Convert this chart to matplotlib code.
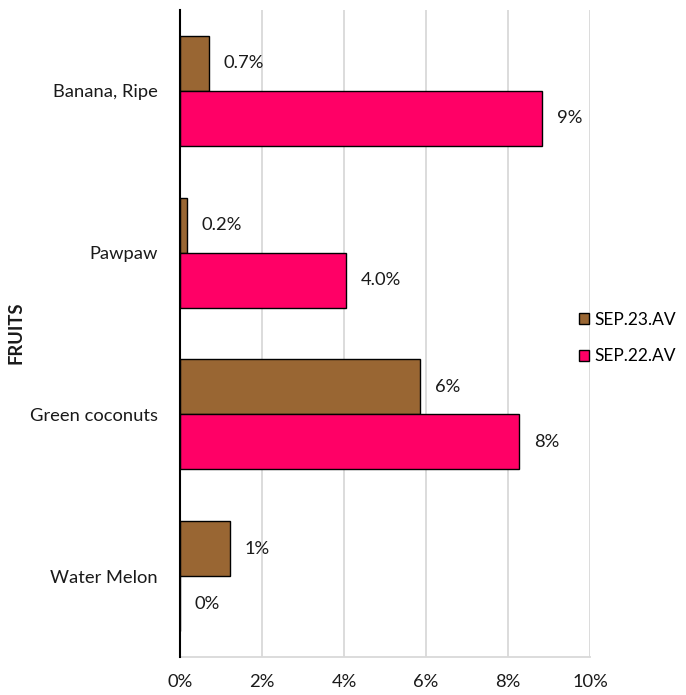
import matplotlib
matplotlib.use("Agg")
import matplotlib.pyplot as plt
from matplotlib.ticker import FuncFormatter
from matplotlib.patches import Patch

fruits = ["Banana, Ripe", "Pawpaw", "Green coconuts", "Water Melon"]
sep23 = [0.71, 0.17, 5.85, 1.22]
sep22 = [8.83, 4.05, 8.27, 0.0]
sep23_labels = ["0.7%", "0.2%", "6%", "1%"]
sep22_labels = ["9%", "4.0%", "8%", "0%"]
series_names = ["SEP.23.AV", "SEP.22.AV"]
xticks = [0, 2, 4, 6, 8, 10]

brown = "#996633"
pink = "#FF0066"

plt.rc('font', family='Lato', size=13.2)
fig = plt.figure(figsize=(6.86, 6.95), dpi=100)
ax = fig.add_axes([180/686, 1-657/695, (590-180)/686, (657-10)/695])

ypos = [3, 2, 1, 0]
h = 0.34
ax.barh([y + h/2 for y in ypos], sep23, height=h, color=brown, edgecolor='black', linewidth=1.0, zorder=3)
ax.barh([y - h/2 for y in ypos], sep22, height=h, color=pink, edgecolor='black', linewidth=1.0, zorder=3)

for y, v, t in zip(ypos, sep23, sep23_labels):
	ax.text(v + 0.36, y + h/2, t, va='center', ha='left', color='#1a1a1a')
for y, v, t in zip(ypos, sep22, sep22_labels):
	ax.text(v + 0.36, y - h/2, t, va='center', ha='left', color='#1a1a1a')

ax.set_xlim(0, 10)
ax.set_ylim(-0.5, 3.5)
ax.set_xticks(xticks)
ax.xaxis.set_major_formatter(FuncFormatter(lambda v, p: "%d%%" % v))
ax.set_yticks(ypos)
ax.set_yticklabels(fruits)
ax.tick_params(axis='x', length=0, pad=12.5, colors='#1a1a1a')
ax.tick_params(axis='y', length=0, pad=16, colors='#1a1a1a')
ax.grid(axis='x', color='#D9D9D9', linewidth=1.3, zorder=0)

for s in ['top', 'right']:
	ax.spines[s].set_visible(False)
ax.spines['bottom'].set_color('#D9D9D9')
ax.spines['bottom'].set_linewidth(1.3)
ax.spines['left'].set_color('black')
ax.spines['left'].set_linewidth(1.5)
ax.spines['left'].set_zorder(4)

fig.text(16/686, 1-333/695, "FRUITS", rotation=90, fontweight='bold', ha='center', va='center', color='#1a1a1a')

handles = [Patch(facecolor=brown, edgecolor='black', linewidth=1.0),
	Patch(facecolor=pink, edgecolor='black', linewidth=1.0)]
fig.legend(handles, series_names, loc='center left', bbox_to_anchor=(563/686, 1-338/695),
	frameon=False, fontsize=12.5, handlelength=0.6, handleheight=0.6, handletextpad=0.3,
	labelspacing=1.2, borderaxespad=0.5, borderpad=0.4)

plt.savefig("out.png", dpi=100)
